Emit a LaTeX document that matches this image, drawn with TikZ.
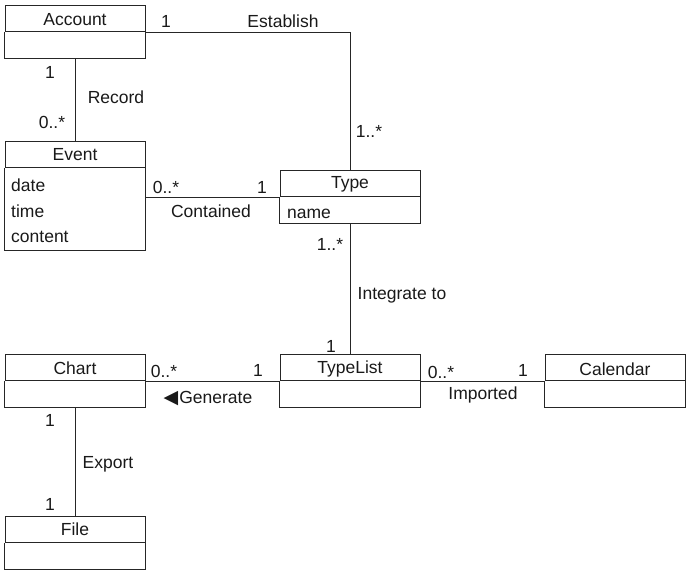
\documentclass[tikz,border=0pt]{standalone}
\usepackage{fontspec}
\setmainfont{Liberation Sans}
\newfontfamily\symfont{DejaVu Sans}
\begin{document}
\begin{tikzpicture}[x=1pt,y=-1pt,
  every node/.style={font=\fontsize{17.5}{21}\selectfont, text=black!90},
  hdr/.style={draw=black!85, line width=1pt, minimum width=140pt, minimum height=26pt, inner sep=0pt, anchor=north},
  bodybox/.style={minimum width=140pt, minimum height=26pt, inner sep=0pt, anchor=north},
  lbl/.style={inner sep=0pt},
  attr/.style={inner sep=0pt, anchor=west},
  conn/.style={draw=black!85, line width=1pt}]
\useasboundingbox (0,0) rectangle (691,573);
% classes
\node[hdr] (acc) at (75,5) {};
\node[bodybox] (accb) at (acc.south) {};
\node[hdr] (ev) at (75,141) {};
\node[bodybox, minimum height=82pt] (evb) at (ev.south) {};
\node[hdr] (ty) at (350,170) {};
\node[bodybox] (tyb) at (ty.south) {};
\node[hdr] (ch) at (75,354) {};
\node[bodybox] (chb) at (ch.south) {};
\node[hdr] (tl) at (350,354) {};
\node[bodybox] (tlb) at (tl.south) {};
\node[hdr] (cal) at (615,354) {};
\node[bodybox] (calb) at (cal.south) {};
\node[hdr] (fi) at (75,516) {};
\node[bodybox] (fib) at (fi.south) {};
\foreach \b in {accb,evb,tyb,chb,tlb,calb,fib}
  \draw[conn] (\b.north west) -- (\b.south west) -- (\b.south east) -- (\b.north east);
% class names
\node[lbl] (accn) at (75,20) {Account};
\node[lbl] (evn) at (75,155) {Event};
\node[lbl] (tyn) at (350,184) {Type};
\node[lbl] (chn) at (75,368) {Chart};
\node[lbl] (tln) at (350,369) {TypeList};
\node[lbl] (caln) at (615,369) {Calendar};
\node[lbl] (fin) at (75,529) {File};
% attributes
\node[attr] (a1) at (11,185) {date};
\node[attr] (a2) at (11,211) {time};
\node[attr] (a3) at (11,237) {content};
\node[attr] (a4) at (287,214) {name};
% connectors
\draw[conn] (accb.south) -- (ev.north);
\draw[conn] (acc.south east) -| (ty.north);
\draw[conn] (evb.east |- ty.south west) -- (ty.south west);
\draw[conn] (tyb.south) -- (tl.north);
\draw[conn] (ch.south east) -- (tl.south west);
\draw[conn] (tl.south east) -- (cal.south west);
\draw[conn] (chb.south) -- (fi.north);
% connector labels
\node[lbl] (m1) at (166,21) {1};
\node[lbl] (l1) at (283,21) {Establish};
\node[lbl] (m2) at (369,131) {1..*};
\node[lbl] (m3) at (50,72) {1};
\node[lbl] (l2) at (116,97) {Record};
\node[lbl] (m4) at (52,122) {0..*};
\node[lbl] (m5) at (166,187) {0..*};
\node[lbl] (m6) at (262,187) {1};
\node[lbl] (l3) at (211,211) {Contained};
\node[lbl] (m7) at (330,244) {1..*};
\node[lbl] (l4) at (402,295) {Integrate to};
\node[lbl] (m8) at (331,346) {1};
\node[lbl] (m9) at (164,371) {0..*};
\node[lbl] (m10) at (258,370) {1};
\node[lbl] (l5) at (208,399) {{\symfont\fontsize{19}{21}\selectfont ◀}\hspace{1pt}Generate};
\node[lbl] (m11) at (441,372) {0..*};
\node[lbl] (m12) at (523,370) {1};
\node[lbl] (l6) at (483,395) {Imported};
\node[lbl] (m13) at (50,420) {1};
\node[lbl] (l7) at (108,464) {Export};
\node[lbl] (m14) at (50,504) {1};
\end{tikzpicture}
\end{document}
